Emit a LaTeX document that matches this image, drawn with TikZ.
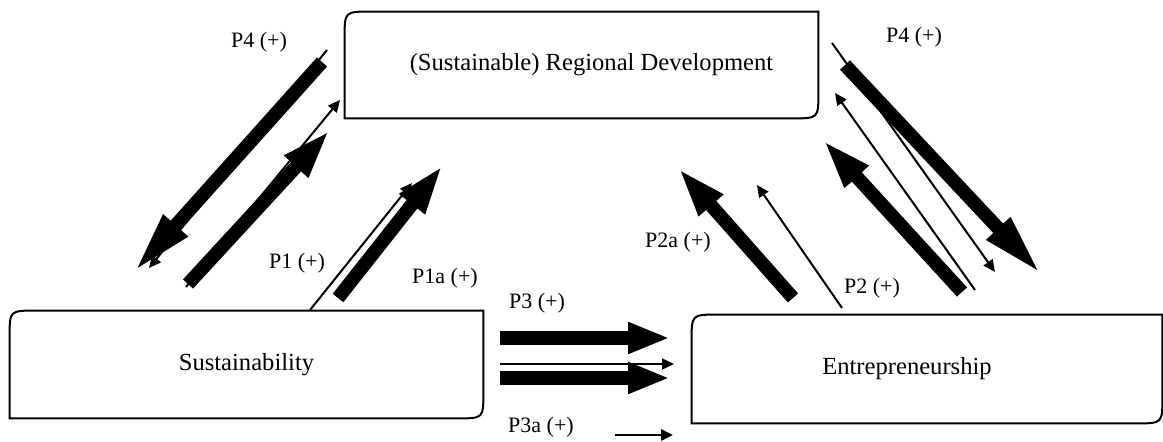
\documentclass[tikz,border=0pt]{standalone}
\usepackage{fontspec}
\setmainfont{Liberation Serif}
\usetikzlibrary{arrows.meta}

\tikzset{
  box/.style={draw=none, inner sep=0pt, font=\fontsize{12.3}{14}\selectfont},
  frame/.style={line width=1pt},
  lbl/.style={font=\fontsize{11}{13}\selectfont, inner sep=1pt},
  fat/.style={line width=6.8pt, -{Triangle[length=#1,width=14.5pt]}},
  fat/.default=23pt,
  slim/.style={line width=1pt, -{Triangle[length=6pt,width=5.5pt]}}
}
% outline with rounded top-left and bottom-right corners
\newcommand{\diagframe}[1]{%
  \draw[frame] ([yshift=-13pt]#1.north west) .. controls (#1.north west) .. ([xshift=13pt]#1.north west)
    -- (#1.north east) -- ([yshift=13pt]#1.south east) .. controls (#1.south east) .. ([xshift=-13pt]#1.south east)
    -- (#1.south west) -- cycle;}

\begin{document}
\begin{tikzpicture}[x=0.5pt,y=-0.5pt]
    \useasboundingbox (0,0) rectangle (1163,442);

    % the three boxes
    \node[box, minimum width=236.5pt, minimum height=53pt] (reg) at (581.5,65) {\hspace*{10pt}(Sustainable) Regional Development};
    \node[box, minimum width=236.5pt, minimum height=53.5pt] (sus) at (246.5,364.5) {Sustainability};
    \node[box, minimum width=235pt, minimum height=54pt] (ent) at (927,369) {\hspace*{-20pt}\raisebox{-3pt}{Entrepreneurship}};
    \diagframe{reg}
    \diagframe{sus}
    \diagframe{ent}

    % ends of the arrows
    \coordinate (pfourL-a) at (322,62);   \coordinate (pfourL-b) at (133,273);
    \coordinate (pfourLt-a) at (327,50);  \coordinate (pfourLt-b) at (149,268);
    \coordinate (upL-a) at (188,284);     \coordinate (upL-b) at (330,130);
    \coordinate (upLt-a) at (186,287);    \coordinate (upLt-b) at (340,100);
    \coordinate (pone-a) at (310,310);    \coordinate (pone-b) at (412,183);
    \coordinate (ponea-a) at (338,298);   \coordinate (ponea-b) at (443,165);
    \coordinate (ptwoa-a) at (793,298);   \coordinate (ptwoa-b) at (678,168);
    \coordinate (ptwo-a) at (842,308);    \coordinate (ptwo-b) at (757,185);
    \coordinate (upR-a) at (962,292);     \coordinate (upR-b) at (823,140);
    \coordinate (upRt-a) at (975,290);    \coordinate (upRt-b) at (835,93);
    \coordinate (pfourR-a) at (845,65);   \coordinate (pfourR-b) at (1042,275);
    \coordinate (pfourRt-a) at (832,43);  \coordinate (pfourRt-b) at (995,272);
    \coordinate (pthree1-a) at (500,338); \coordinate (pthree1-b) at (670,338);
    \coordinate (pthree2-a) at (500,364); \coordinate (pthree2-b) at (674,364);
    \coordinate (pthree3-a) at (500,378); \coordinate (pthree3-b) at (670,378);
    \coordinate (pthreea-a) at (615,435); \coordinate (pthreea-b) at (673,435);

    % left pair
    \draw[slim] (pfourLt-a) -- (pfourLt-b);
    \draw[fat=32pt] (pfourL-a) -- (pfourL-b);
    \draw[slim] (upLt-a) -- (upLt-b);
    \draw[fat=25pt] (upL-a) -- (upL-b);
    \draw[slim] (pone-a) -- (pone-b);
    \draw[fat=25pt] (ponea-a) -- (ponea-b);

    % right pair
    \draw[fat=25pt] (ptwoa-a) -- (ptwoa-b);
    \draw[slim] (ptwo-a) -- (ptwo-b);
    \draw[fat=25pt] (upR-a) -- (upR-b);
    \draw[slim] (upRt-a) -- (upRt-b);
    \draw[slim] (pfourRt-a) -- (pfourRt-b);
    \draw[fat=32pt] (pfourR-a) -- (pfourR-b);

    % middle
    \draw[fat=21pt] (pthree1-a) -- (pthree1-b);
    \draw[fat=21pt] (pthree3-a) -- (pthree3-b);
    \draw[slim] (pthree2-a) -- (pthree2-b);
    \draw[slim, line width=1.4pt] (pthreea-a) -- (pthreea-b);

    % labels
    \node[lbl] (lfourL) at (259,42) {P4 (+)};
    \node[lbl] (lfourR) at (914,37) {P4 (+)};
    \node[lbl] (lone) at (297,263) {P1 (+)};
    \node[lbl] (lonea) at (445,278) {P1a (+)};
    \node[lbl] (lthree) at (537,303) {P3 (+)};
    \node[lbl] (lthreea) at (541,427) {P3a (+)};
    \node[lbl] (ltwoa) at (678,242) {P2a (+)};
    \node[lbl] (ltwo) at (872,288) {P2 (+)};
\end{tikzpicture}
\end{document}
